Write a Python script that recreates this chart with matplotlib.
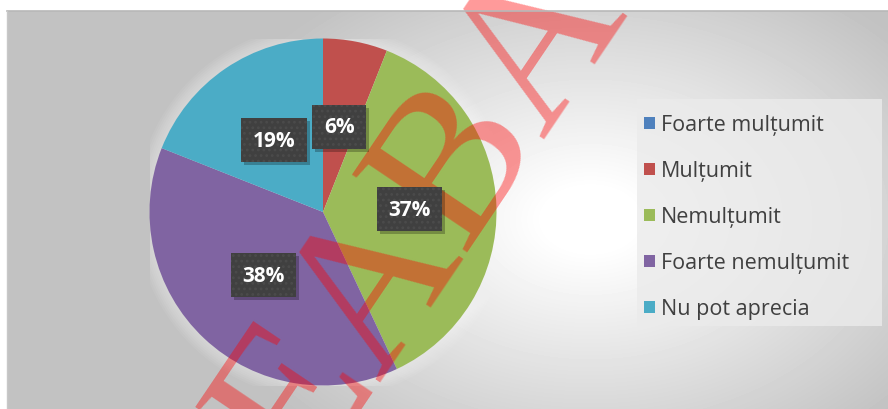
import matplotlib.pyplot as plt
import matplotlib.transforms as mtransforms
from matplotlib.patches import Rectangle, Circle
import numpy as np

categories = ["Foarte mulțumit", "Mulțumit", "Nemulțumit", "Foarte nemulțumit", "Nu pot aprecia"]
values = [0, 6, 37, 38, 19]
colors = ["#4F81BD", "#C0504D", "#9BBB59", "#8064A2", "#4BACC6"]
watermark = "EABA"

W, H = 888, 410
plt.rcParams['font.family'] = ['Open Sans', 'DejaVu Sans']
plt.rcParams['hatch.linewidth'] = 1.2
fig = plt.figure(figsize=(W / 100, H / 100), dpi=100)

# gray gradient background of the chart area
bg = fig.add_axes([7 / W, 0, (W - 7) / W, 398 / H])
yy, xx = np.mgrid[12:410, 7:888]
t = np.sqrt(((xx - 590) / 380.0) ** 2 + ((yy - 220) / 260.0) ** 2)
shade = 1 - 0.24 * np.clip((t - 0.12) / 0.95, 0, 1)
bg.imshow(shade, cmap='gray', vmin=0, vmax=1, aspect='auto', interpolation='bilinear')
bg.axis('off')
fig.add_artist(plt.Line2D([7 / W, 1], [1 - 11.5 / H, 1 - 11.5 / H], color='#b8b8b8', lw=1.2))
fig.add_artist(plt.Line2D([7 / W, 7 / W], [0, 1 - 11.5 / H], color='#c8c8c8', lw=1.0))

# pie
cx, cy, R = 323, 213, 173.5
ax = fig.add_axes([(cx - R) / W, (H - cy - R) / H, 2 * R / W, 2 * R / H])
for r in np.linspace(1.08, 1.0, 8):
    ax.add_patch(Circle((0, 0), r, facecolor='white', edgecolor='none', alpha=0.06, zorder=0))

wedges, _ = ax.pie(values, colors=colors, startangle=90, counterclock=False,
                   radius=1, wedgeprops=dict(linewidth=0, zorder=1))
ax.set_xlim(-1, 1)
ax.set_ylim(-1, 1)
ax.axis('off')

ax.text(424 / W, 1 - 218 / H, watermark, transform=fig.transFigure, rotation=56, color='red',
        alpha=0.4, fontsize=152, family='Liberation Serif', ha='center', va='center',
        rotation_mode='anchor', zorder=3, clip_on=False)

total = sum(values)
start = 90.0
shadow_tr = mtransforms.offset_copy(ax.transData, fig=fig, x=3, y=-3, units='dots')
for v in values:
    ang = start - 360.0 * v / total / 2
    start -= 360.0 * v / total
    if v == 0:
        continue
    x = 0.5 * np.cos(np.radians(ang))
    y = 0.5 * np.sin(np.radians(ang))
    lab = f"{v}%"
    ax.text(x, y, lab, transform=shadow_tr, ha='center', va='center', fontsize=15,
            fontweight='bold', color='none', zorder=4,
            bbox=dict(boxstyle='square,pad=0.55', facecolor='black', alpha=0.25, linewidth=0))
    ax.text(x, y, lab, ha='center', va='center', fontsize=15, fontweight='bold',
            color='white', zorder=5,
            bbox=dict(boxstyle='square,pad=0.55', facecolor='#404040', edgecolor='#4b4b4b',
                      hatch='...', linewidth=0))

# legend
fig.add_artist(Rectangle((637 / W, 1 - 327 / H), 245 / W, 227 / H, transform=fig.transFigure,
                         facecolor='#ebebeb', edgecolor='none', alpha=0.8))
handles = [Rectangle((0, 0), 1, 1, facecolor=c, edgecolor='none') for c in colors]
leg = fig.legend(handles, categories, loc='upper left', bbox_to_anchor=(638 / W, 1 - 109 / H),
                 frameon=False, fontsize=15.5, labelcolor='#404040', handlelength=0.48,
                 handleheight=0.48, handletextpad=0.3, labelspacing=1.16, borderaxespad=0,
                 borderpad=0.3)

fig.savefig('out.png', dpi=100)
